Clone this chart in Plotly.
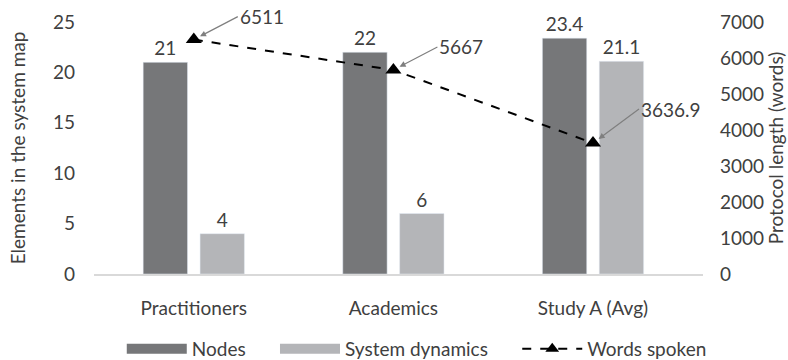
import plotly.graph_objects as go

categories = ["Practitioners", "Academics", "Study A (Avg)"]
nodes = [21, 22, 23.4]
system_dynamics = [4, 6, 21.1]
words_spoken = [6511, 5667, 3636.9]
word_labels = ["6511", "5667", "3636.9"]

FONT = "Lato, Carlito, Open Sans, sans-serif"
TXT = "#404040"
FS = 19
C_NODES = "#767779"
C_SD = "#b4b5b8"
PAD = "\u00a0" * 5

fig = go.Figure()
fig.add_trace(go.Bar(
    x=categories, y=nodes, name="Nodes", marker_color=C_NODES, showlegend=False,
    text=[f"{v:g}" for v in nodes], textposition="outside",
    textfont=dict(size=FS, color=TXT), cliponaxis=False, yaxis="y"))
fig.add_trace(go.Bar(
    x=categories, y=system_dynamics, name="System dynamics", marker_color=C_SD, showlegend=False,
    text=[f"{v:g}" for v in system_dynamics], textposition="outside",
    textfont=dict(size=FS, color=TXT), cliponaxis=False, yaxis="y"))
fig.add_trace(go.Scatter(
    x=categories, y=words_spoken, name="Words spoken", mode="lines+markers",
    line=dict(color="black", dash="dash", width=2),
    marker=dict(symbol="triangle-up", size=14, color="black"),
    yaxis="y2", cliponaxis=False, showlegend=False))

# legend entries (wide swatches like the original)
fig.add_trace(go.Scatter(x=[None], y=[None], mode="lines", name="Nodes" + PAD,
                         line=dict(color=C_NODES, width=13)))
fig.add_trace(go.Scatter(x=[None], y=[None], mode="lines", name="System dynamics" + PAD,
                         line=dict(color=C_SD, width=13)))
fig.add_trace(go.Scatter(x=[None], y=[None], mode="lines+markers", name="Words spoken",
                         line=dict(color="black", dash="dash", width=2),
                         marker=dict(symbol="triangle-up", size=12, color="black")))

offsets = [(44, -23), (44, -23), (46, -34)]
for c, v, t, (ax, ay) in zip(categories, words_spoken, word_labels, offsets):
    fig.add_annotation(x=c, y=v, yref="y2", xref="x", text=t,
                       showarrow=True, arrowhead=2, arrowsize=1, arrowwidth=1.2,
                       arrowcolor="#7f7f7f", ax=ax, ay=ay, xanchor="left",
                       font=dict(size=FS, color=TXT), standoff=7)

fig.update_layout(
    width=788, height=360,
    margin=dict(l=94, r=85, t=22, b=86, autoexpand=False),
    paper_bgcolor="white", plot_bgcolor="white",
    font=dict(family=FONT, size=FS, color=TXT),
    barmode="group", bargap=0.43, bargroupgap=0.22,
    showlegend=True,
    legend=dict(orientation="h", x=0.53, xanchor="center",
                y=-0.297, yanchor="middle",
                font=dict(size=FS, color=TXT), itemwidth=60, traceorder="normal"),
    xaxis=dict(type="category", showline=True, linecolor="#d9d9d9", linewidth=2,
               ticks="", showgrid=False, tickfont=dict(size=FS, color=TXT),
               ticklabelstandoff=16),
    yaxis=dict(range=[0, 25], dtick=5, showgrid=False, zeroline=False, ticks="",
               title=dict(text="Elements in the system map", font=dict(size=FS, color=TXT), standoff=22),
               tickfont=dict(size=FS, color=TXT), ticklabelstandoff=18),
    yaxis2=dict(range=[0, 7000], dtick=1000, overlaying="y", side="right",
                showgrid=False, zeroline=False, ticks="",
                title=dict(text="Protocol length (words)", font=dict(size=FS, color=TXT), standoff=6),
                tickfont=dict(size=FS, color=TXT), ticklabelstandoff=16),
)

fig.write_html("out.html")
